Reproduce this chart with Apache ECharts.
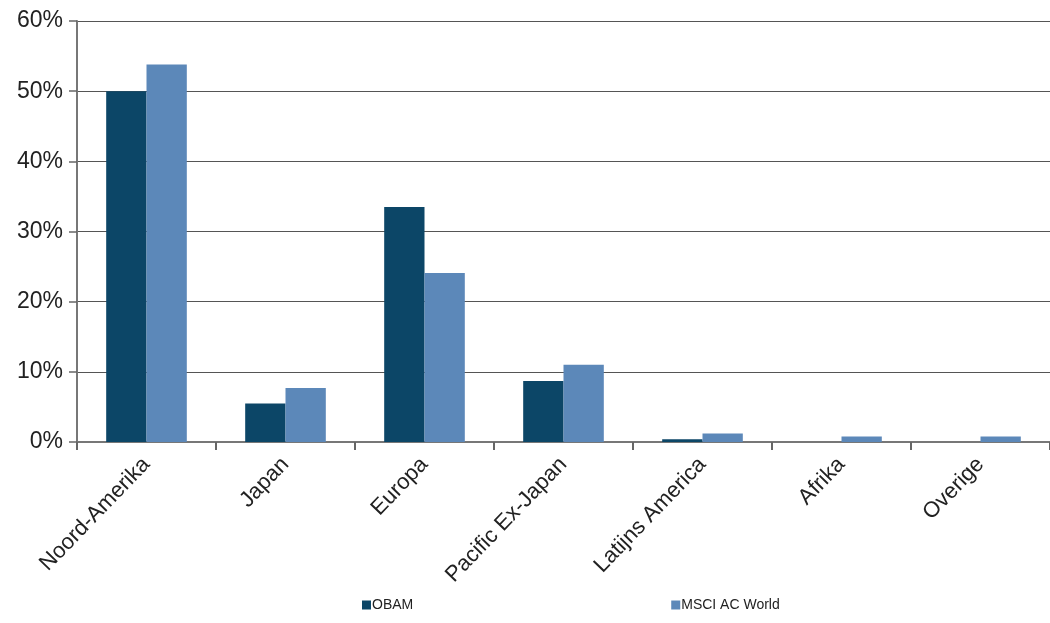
<!DOCTYPE html>
<html><head><meta charset="utf-8">
<script src="https://cdn.jsdelivr.net/npm/echarts@6/dist/echarts.min.js"></script>
<style>html,body{margin:0;padding:0;background:#fff}#c{width:1050px;height:623px}</style>
</head><body><div id="c"></div>
<script>
const categories = ['Noord-Amerika','Japan','Europa','Pacific Ex-Japan','Latijns America','Afrika','Overige'];
const obam = [50.0, 5.5, 33.5, 8.7, 0.4, 0, 0];
const msci = [53.8, 7.7, 24.1, 11.0, 1.2, 0.8, 0.8];
const seriesNames = ['OBAM','MSCI AC World'];
const yTicks = {min:0, max:60, interval:10};

const chart = echarts.init(document.getElementById('c'));
const font = 'Liberation Sans, Arial, sans-serif';
chart.setOption({
  animation:false,
  grid:{left:77, right:0, top:21, bottom:181},
  legend:{bottom:6, left:357, itemGap:258, itemWidth:9, itemHeight:9, icon:'rect',
    textStyle:{fontFamily:font, fontSize:14, color:'#222', padding:[0,0,0,-4]},
    data:seriesNames},
  xAxis:{type:'category', data:categories,
    axisLine:{lineStyle:{color:'#777', width:2}},
    axisTick:{show:true, length:8, lineStyle:{color:'#666', width:2}},
    axisLabel:{rotate:46, fontFamily:font, fontSize:22, color:'#222', margin:19, interval:0}},
  yAxis:{type:'value', min:yTicks.min, max:yTicks.max, interval:yTicks.interval,
    axisLine:{show:true, lineStyle:{color:'#777', width:2}},
    axisTick:{show:true, length:8, lineStyle:{color:'#666', width:1.5}},
    splitLine:{lineStyle:{color:'#555', width:1.2}},
    axisLabel:{formatter:'{value}%', fontFamily:font, fontSize:23, color:'#222', margin:14}},
  series:[
    {name:seriesNames[0], type:'bar', data:obam, barGap:'0%', barCategoryGap:'42%', itemStyle:{color:'#0c4667'}},
    {name:seriesNames[1], type:'bar', data:msci, barGap:'0%', barCategoryGap:'42%', itemStyle:{color:'#5c88b9'}}
  ]
});
</script></body></html>
